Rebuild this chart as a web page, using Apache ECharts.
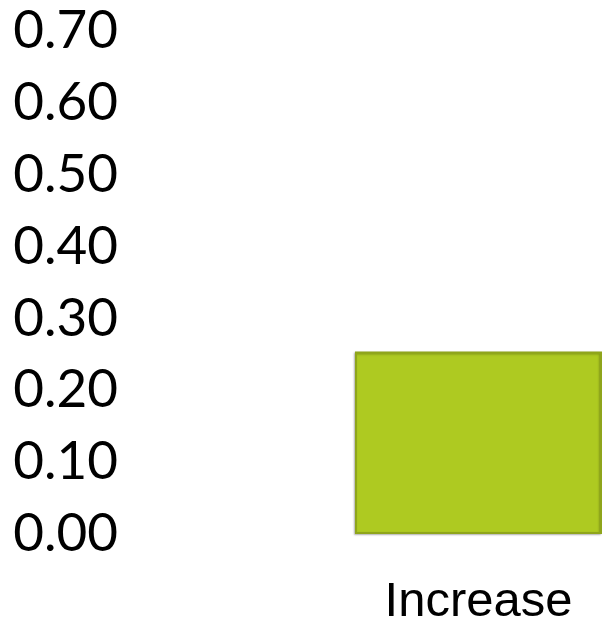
<!DOCTYPE html>
<html>
<head>
<meta charset="utf-8">
<script src="https://cdn.jsdelivr.net/npm/echarts@6/dist/echarts.min.js"></script>
<style>
  html, body { margin: 0; padding: 0; background: #fff; }
  #chart { width: 602px; height: 623px; }
</style>
</head>
<body>
<div id="chart"></div>
<script>
const categories = ['Increase']
const values = [0.254]
const yTicks = { min: 0, max: 0.7, interval: 0.1 }

const c = echarts.init(document.getElementById('chart'))
c.setOption({
  animation: false,
  grid: { left: 355, right: 0, top: 31, bottom: 89, outerBoundsMode: 'none' },
  xAxis: {
    type: 'category',
    data: categories,
    axisLine: { show: false },
    axisTick: { show: false },
    axisLabel: {
      color: '#000',
      fontFamily: 'Liberation Sans',
      fontSize: 49,
      margin: 44
    }
  },
  yAxis: {
    type: 'value',
    min: yTicks.min,
    max: yTicks.max,
    interval: yTicks.interval,
    splitLine: { show: false },
    axisLine: { show: false },
    axisTick: { show: false },
    axisLabel: {
      color: '#000',
      fontFamily: 'Lato',
      fontSize: 53,
      margin: 237,
      padding: [5, 0, 0, 0],
      formatter: v => v.toFixed(2)
    }
  },
  series: [{
    type: 'bar',
    data: values,
    barWidth: '100%',
    itemStyle: {
      color: '#AECA21',
      borderColor: '#8FA51B',
      borderWidth: 2,
      shadowColor: 'rgba(0,0,0,0.25)',
      shadowBlur: 2,
      shadowOffsetX: -1,
      shadowOffsetY: 1
    }
  }]
})
</script>
</body>
</html>
